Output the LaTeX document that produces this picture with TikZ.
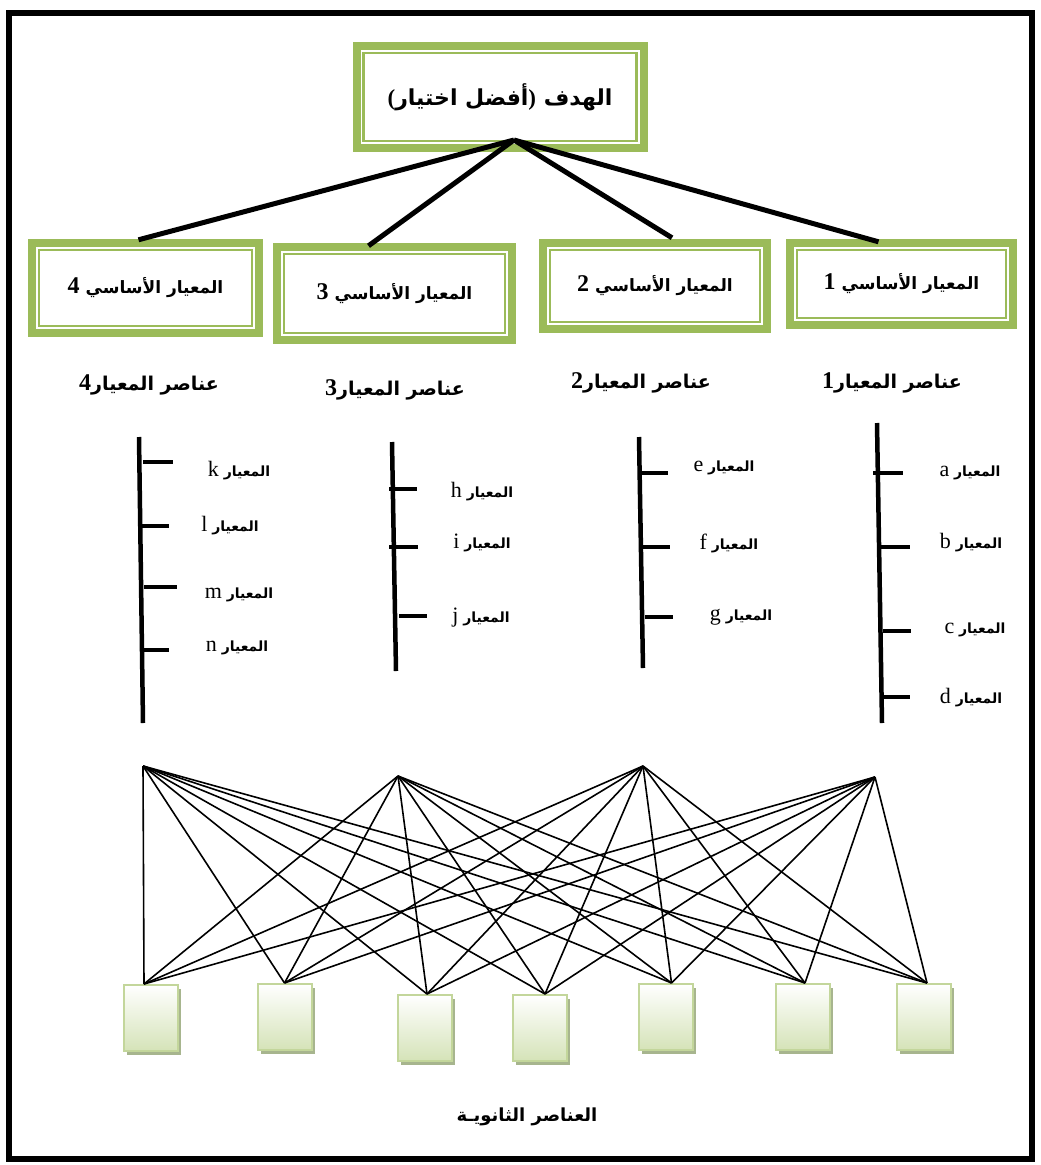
\documentclass[tikz,border=0pt]{standalone}
\usepackage{fontspec}
\usetikzlibrary{shadows,calc}
\TeXXeTstate=1
\newfontfamily\arabicfont[Script=Arabic]{DejaVu Sans}
\newfontfamily\latinfont{Liberation Serif}
\newcommand\artext[1]{{\arabicfont\bfseries\beginR #1\endR}}
\newcommand\latb[2][24]{{\fontsize{#1}{#1}\latinfont\bfseries #2}}
\newcommand\latr[1]{{\fontsize{22}{22}\latinfont\mdseries #1}}
\newcommand\fsz[1]{\fontsize{#1}{#1}\selectfont}
\definecolor{olivegreen}{HTML}{9BBB59}
\definecolor{boxedge}{HTML}{C3D69B}
\definecolor{boxfill}{HTML}{D5E3B8}
\definecolor{boxshade}{HTML}{A7B58E}

\tikzset{
  greenbox/.style={fill=olivegreen, inner sep=0pt, path picture={
      \fill[white] ([shift={(8pt,-8pt)}]path picture bounding box.north west)
        rectangle ([shift={(-8pt,8pt)}]path picture bounding box.south east);
      \draw[olivegreen, line width=2.5pt]
        ([shift={(11pt,-11pt)}]path picture bounding box.north west)
        rectangle ([shift={(-11pt,11pt)}]path picture bounding box.south east);
  }},
  grouptext/.style={font=\fsz{19}},
  itemtext/.style={font=\fsz{14}},
  mainlink/.style={line width=5pt},
  ladder/.style={line width=4.5pt},
  webline/.style={line width=1.6pt},
  leaf/.style={draw=boxedge, line width=2pt, top color=white, bottom color=boxfill,
    minimum width=54pt, minimum height=66pt, inner sep=0pt,
    drop shadow={shadow xshift=3pt, shadow yshift=-4pt, fill=boxshade, opacity=1}},
}

\begin{document}
\begin{tikzpicture}[x=1pt,y=-1pt]
\useasboundingbox (0,0) rectangle (1041,1165);
\fill[white] (0,0) rectangle (1041,1165);
\draw[line width=6pt] (9,13) rectangle (1032,1159);

% goal and main criteria
\node[greenbox, minimum width=295pt, minimum height=110pt] (goal) at (500,97)
  {\fsz{22}\artext{الهدف \latb[23]{)}أفضل اختيار\latb[23]{(}}};
\node[greenbox, minimum width=235pt, minimum height=98pt] (c4) at (145.5,288)
  {\fsz{17}\artext{المعيار الأساسي \latb{4}}};
\node[greenbox, minimum width=243pt, minimum height=101pt] (c3) at (394.5,293.5)
  {\fsz{17}\artext{المعيار الأساسي \latb{3}}};
\node[greenbox, minimum width=232pt, minimum height=94pt] (c2) at (655,286)
  {\fsz{17}\artext{المعيار الأساسي \latb{2}}};
\node[greenbox, minimum width=231pt, minimum height=90pt] (c1) at (901.5,284)
  {\fsz{17}\artext{المعيار الأساسي \latb{1}}};

\coordinate (hub) at (514,140);
\draw[mainlink] (hub) -- ([xshift=-7pt,yshift=-1pt]c4.north);
\draw[mainlink] (hub) -- ([xshift=-26pt,yshift=-3pt]c3.north);
\draw[mainlink] (hub) -- ([xshift=17pt,yshift=1pt]c2.north);
\draw[mainlink] (hub) -- ([xshift=-23pt,yshift=-3pt]c1.north);

% group headings
\node[grouptext] (g4) at (149,385) {\artext{عناصر المعيار\latb{4}}};
\node[grouptext] (g3) at (395,390) {\artext{عناصر المعيار\latb{3}}};
\node[grouptext] (g2) at (641,383) {\artext{عناصر المعيار\latb{2}}};
\node[grouptext] (g1) at (892,383) {\artext{عناصر المعيار\latb{1}}};

% element ladders
\draw[ladder] (139,437) -- (143,723);
\draw[ladder] (143,462) -- (173,462);
\draw[ladder] (141,526) -- (169,526);
\draw[ladder] (144,587) -- (177,587);
\draw[ladder] (141,650) -- (169,650);

\draw[ladder] (392,442) -- (396,671);
\draw[ladder] (389,489) -- (417,489);
\draw[ladder] (389,547) -- (418,547);
\draw[ladder] (399,616) -- (427,616);

\draw[ladder] (639,437) -- (643,668);
\draw[ladder] (642,473) -- (668,473);
\draw[ladder] (643,547) -- (670,547);
\draw[ladder] (645,617) -- (673,617);

\draw[ladder] (877,423) -- (882,723);
\draw[ladder] (873,473) -- (903,473);
\draw[ladder] (881,547) -- (910,547);
\draw[ladder] (883,631) -- (911,631);
\draw[ladder] (883,697) -- (910,697);

% element labels
\node[itemtext] (ek) at (239,471) {\artext{المعيار \latr{k}}};
\node[itemtext] (el) at (230,526) {\artext{المعيار \latr{l}}};
\node[itemtext] (em) at (239,595) {\artext{المعيار \latr{m}}};
\node[itemtext] (en) at (237,648) {\artext{المعيار \latr{n}}};
\node[itemtext] (eh) at (482,492) {\artext{المعيار \latr{h}}};
\node[itemtext] (ei) at (482,543) {\artext{المعيار \latr{i}}};
\node[itemtext] (ej) at (481,618) {\artext{المعيار \latr{j}}};
\node[itemtext] (ee) at (724,468) {\artext{المعيار \latr{e}}};
\node[itemtext] (ef) at (729,543) {\artext{المعيار \latr{f}}};
\node[itemtext] (eg) at (741,617) {\artext{المعيار \latr{g}}};
\node[itemtext] (ea) at (970,473) {\artext{المعيار \latr{a}}};
\node[itemtext] (eb) at (971,543) {\artext{المعيار \latr{b}}};
\node[itemtext] (ec) at (975,630) {\artext{المعيار \latr{c}}};
\node[itemtext] (ed) at (971,698) {\artext{المعيار \latr{d}}};

% secondary elements
\node[leaf] (b1) at (151,1018) {};
\node[leaf] (b2) at (284.5,1017) {};
\node[leaf] (b3) at (425,1028) {};
\node[leaf] (b4) at (540,1028) {};
\node[leaf] (b5) at (665.5,1017) {};
\node[leaf] (b6) at (803,1017) {};
\node[leaf] (b7) at (924,1017) {};

\coordinate (t1) at ([xshift=-7pt]b1.north);
\coordinate (t2) at (b2.north);
\coordinate (t3) at ([xshift=2pt]b3.north);
\coordinate (t4) at ([xshift=5pt]b4.north);
\coordinate (t5) at ([xshift=6pt]b5.north);
\coordinate (t6) at ([xshift=2pt]b6.north);
\coordinate (t7) at ([xshift=3pt]b7.north);

\coordinate (p4) at (143,766);
\coordinate (p3) at (398,776);
\coordinate (p2) at (643,766);
\coordinate (p1) at (875,777);

\foreach \p in {p1,p2,p3,p4}
  \foreach \t in {t1,t2,t3,t4,t5,t6,t7}
    \draw[webline] (\p) -- (\t);

\node[grouptext] (sec) at (527,1117) {\fsz{18}\artext{العناصر الثانويـة}};
\end{tikzpicture}
\end{document}
